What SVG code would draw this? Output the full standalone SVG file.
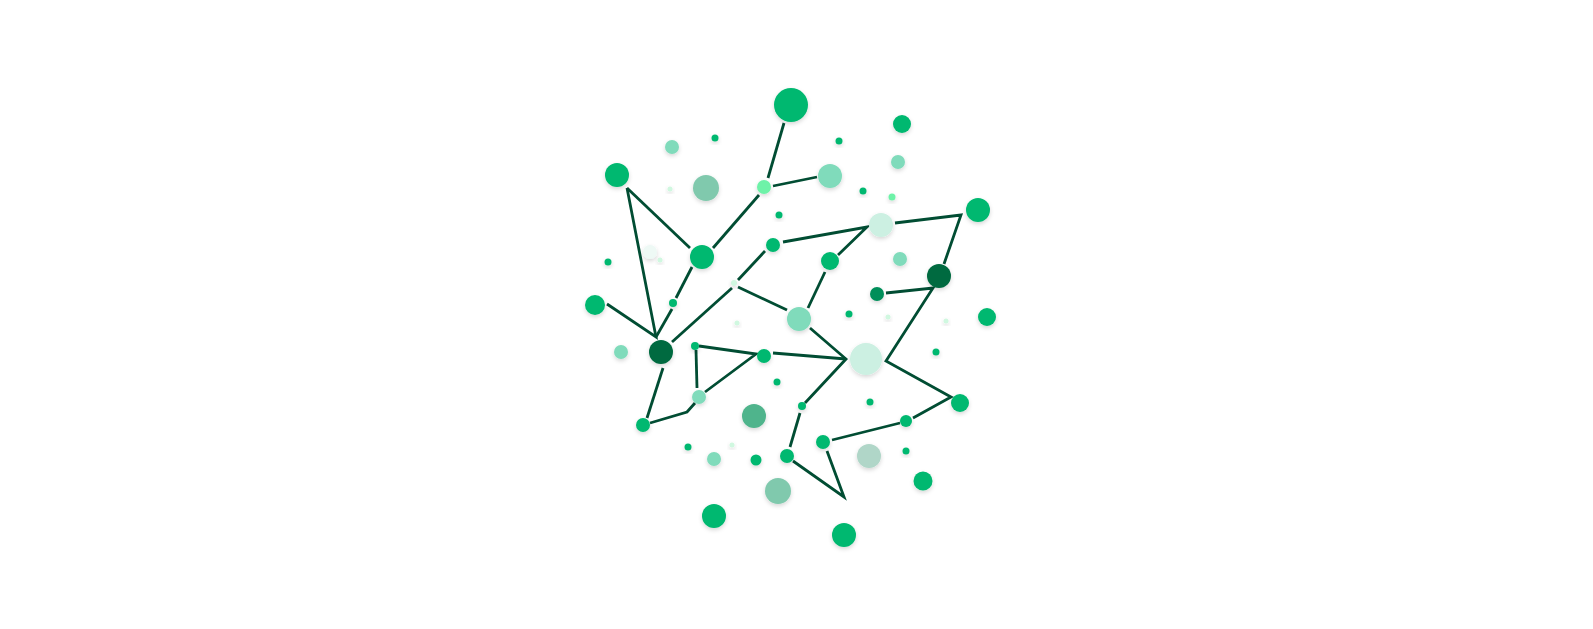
<svg xmlns="http://www.w3.org/2000/svg" width="1593" height="629" viewBox="0 0 1593 629">
<defs>
<filter id="sh" x="-50%" y="-50%" width="200%" height="200%">
<feDropShadow dx="0" dy="2" stdDeviation="2.2" flood-color="#000" flood-opacity="0.16"/>
</filter>
<style>
.e{fill:none;stroke:#014d33;stroke-width:2.8;stroke-linejoin:miter;stroke-linecap:butt}
circle{filter:url(#sh)}
.g{fill:#05b870}
.m{fill:#80dbbb}
.s{fill:#80c9ad}
.p{fill:#d0f8e0}
.b{fill:#6ef2a8}
.l{fill:#ccf0e2}
.v{fill:#eef9f5}
.d{fill:#006b40}
.dm{fill:#008f5a}
.mg{fill:#50b48c}
.gy{fill:#b0d6c8}
</style>
</defs>
<rect width="1593" height="629" fill="#ffffff"/>
<g id="connectors">
<path class="e" d="M784,123 L768,178"/>
<path class="e" d="M773,186 L817,177"/>
<path class="e" d="M759,195 L713,248"/>
<path class="e" d="M627,188 L690,248"/>
<path class="e" d="M627,188 L656,337 L607,304"/>
<path class="e" d="M656,337 L672,309"/>
<path class="e" d="M676,298 L692,267"/>
<path class="e" d="M672,342 L732,288"/>
<path class="e" d="M738,280 L765,251"/>
<path class="e" d="M738,287 L787,310"/>
<path class="e" d="M783,242 L867,227 L838,255"/>
<path class="e" d="M895,223 L961,215 L944,264"/>
<path class="e" d="M825,272 L808,308"/>
<path class="e" d="M810,328 L846,359 L805,403"/>
<path class="e" d="M773,353 L846,359"/>
<path class="e" d="M886,293 L933,288 L886,361 L951,397 L913,418"/>
<path class="e" d="M696,350 L697,388"/>
<path class="e" d="M699,346 L756,354 L705,392"/>
<path class="e" d="M663,368 L647,418"/>
<path class="e" d="M650,423 L687,412 L695,403"/>
<path class="e" d="M800,413 L790,447"/>
<path class="e" d="M832,440 L900,423"/>
<path class="e" d="M827,451 L844,497 L793,461"/>
</g>
<g id="n1"><circle class="g" cx="791" cy="105" r="17"/></g>
<g id="n2"><circle class="g" cx="902" cy="124" r="9"/></g>
<g id="n3"><circle class="m" cx="672" cy="147" r="7"/></g>
<g id="n4"><circle class="g" cx="715" cy="138" r="3.5"/></g>
<g id="n5"><circle class="g" cx="839" cy="141" r="3.5"/></g>
<g id="n6"><circle class="m" cx="898" cy="162" r="7"/></g>
<g id="n7"><circle class="g" cx="617" cy="175" r="12"/></g>
<g id="n8"><circle class="p" cx="670" cy="189" r="2.5"/></g>
<g id="n9"><circle class="s" cx="706" cy="188" r="13"/></g>
<g id="n10"><circle class="b" cx="764" cy="187" r="7"/></g>
<g id="n11"><circle class="m" cx="830" cy="176" r="12"/></g>
<g id="n12"><circle class="g" cx="863" cy="191" r="3.5"/></g>
<g id="n13"><circle class="b" cx="892" cy="197" r="3.5"/></g>
<g id="n14"><circle class="g" cx="978" cy="210" r="12"/></g>
<g id="n15"><circle class="l" cx="881" cy="225" r="12"/></g>
<g id="n16"><circle class="g" cx="779" cy="215" r="3.5"/></g>
<g id="n17"><circle class="g" cx="773" cy="245" r="7"/></g>
<g id="n18"><circle class="v" cx="650" cy="252" r="7"/></g>
<g id="n19"><circle class="p" cx="660" cy="260" r="2.5"/></g>
<g id="n20"><circle class="g" cx="702" cy="257" r="12"/></g>
<g id="n21"><circle class="g" cx="608" cy="262" r="3.5"/></g>
<g id="n22"><circle class="g" cx="830" cy="261" r="9"/></g>
<g id="n23"><circle class="m" cx="900" cy="259" r="7"/></g>
<g id="n24"><circle class="d" cx="939" cy="276" r="12"/></g>
<g id="n25"><circle class="dm" cx="877" cy="294" r="7"/></g>
<g id="n26"><circle class="g" cx="595" cy="305" r="10"/></g>
<g id="n27"><circle class="g" cx="673" cy="303" r="4"/></g>
<g id="n28"><circle class="p" cx="734" cy="283" r="3"/></g>
<g id="n29"><circle class="p" cx="737" cy="323" r="2.5"/></g>
<g id="n30"><circle class="m" cx="799" cy="319" r="12"/></g>
<g id="n31"><circle class="g" cx="849" cy="314" r="3.5"/></g>
<g id="n32"><circle class="p" cx="888" cy="317" r="2.5"/></g>
<g id="n33"><circle class="p" cx="946" cy="321" r="2.5"/></g>
<g id="n34"><circle class="g" cx="987" cy="317" r="9"/></g>
<g id="n35"><circle class="m" cx="621" cy="352" r="7"/></g>
<g id="n36"><circle class="d" cx="661" cy="352" r="12"/></g>
<g id="n37"><circle class="g" cx="695" cy="346" r="4"/></g>
<g id="n38"><circle class="g" cx="764" cy="356" r="7"/></g>
<g id="n39"><circle class="l" cx="866" cy="359" r="16"/></g>
<g id="n40"><circle class="g" cx="936" cy="352" r="3.5"/></g>
<g id="n41"><circle class="g" cx="777" cy="382" r="3.5"/></g>
<g id="n42"><circle class="m" cx="699" cy="397" r="7"/></g>
<g id="n43"><circle class="mg" cx="754" cy="416" r="12"/></g>
<g id="n44"><circle class="g" cx="802" cy="406" r="4"/></g>
<g id="n45"><circle class="g" cx="870" cy="402" r="3.5"/></g>
<g id="n46"><circle class="g" cx="960" cy="403" r="9"/></g>
<g id="n47"><circle class="g" cx="643" cy="425" r="7"/></g>
<g id="n48"><circle class="g" cx="688" cy="447" r="3.5"/></g>
<g id="n49"><circle class="p" cx="732" cy="445" r="2.5"/></g>
<g id="n50"><circle class="m" cx="714" cy="459" r="7"/></g>
<g id="n51"><circle class="g" cx="756" cy="460" r="5.5"/></g>
<g id="n52"><circle class="g" cx="787" cy="456" r="7"/></g>
<g id="n53"><circle class="g" cx="823" cy="442" r="7"/></g>
<g id="n54"><circle class="g" cx="906" cy="421" r="6"/></g>
<g id="n55"><circle class="gy" cx="869" cy="456" r="12"/></g>
<g id="n56"><circle class="g" cx="906" cy="451" r="3.5"/></g>
<g id="n57"><circle class="s" cx="778" cy="491" r="13"/></g>
<g id="n58"><circle class="g" cx="923" cy="481" r="9.5"/></g>
<g id="n59"><circle class="g" cx="714" cy="516" r="12"/></g>
<g id="n60"><circle class="g" cx="844" cy="535" r="12"/></g>
</svg>
